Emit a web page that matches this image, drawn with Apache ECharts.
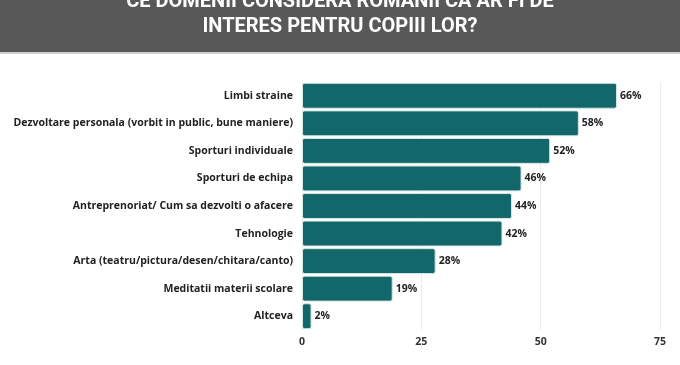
<!DOCTYPE html>
<html><head><meta charset="utf-8">
<script src="https://cdn.jsdelivr.net/npm/echarts@6/dist/echarts.min.js"></script>
<style>html,body{margin:0;padding:0;background:#fff}#c{width:680px;height:365px}</style>
</head><body><div id="c"></div>
<script>
const titleLines = ["CE DOMENII CONSIDERA ROMANII CA AR FI DE", "INTERES PENTRU COPIII LOR?"];
const categories = ["Limbi straine","Dezvoltare personala (vorbit in public, bune maniere)","Sporturi individuale","Sporturi de echipa","Antreprenoriat/ Cum sa dezvolti o afacere","Tehnologie","Arta (teatru/pictura/desen/chitara/canto)","Meditatii materii scolare","Altceva"];
const values = [66,58,52,46,44,42,28,19,2];
const xTicks = [0,25,50,75];

const chart = echarts.init(document.getElementById('c'));
const font = "'Open Sans', 'Noto Sans', sans-serif";
chart.setOption({
  animation:false,
  graphic:[
    {type:'rect', shape:{x:0,y:0,width:680,height:53}, style:{fill:'#585858'}},
    {type:'rect', shape:{x:0,y:52,width:680,height:2}, style:{fill:'#cfcfcf'}},
    {type:'text', x:340, y:2, style:{text:titleLines[0], fill:'#fff', font:"bold 20px 'Liberation Sans Narrow', Roboto, sans-serif", textAlign:'center', textVerticalAlign:'middle'}},
    {type:'text', x:340, y:27, style:{text:titleLines[1], fill:'#fff', font:"bold 20px 'Liberation Sans Narrow', Roboto, sans-serif", textAlign:'center', textVerticalAlign:'middle'}}
  ],
  grid:{left:302, right:20, top:82, bottom:35, containLabel:false},
  xAxis:{type:'value', min:xTicks[0], max:xTicks[xTicks.length-1], interval:25,
    axisLine:{show:false}, axisTick:{show:false},
    splitLine:{lineStyle:{color:'#ececec'}},
    axisLabel:{color:'#333', fontFamily:font, fontWeight:'bold', fontSize:10.5, margin:7}},
  yAxis:{type:'category', data:categories, inverse:true,
    axisLine:{show:false}, axisTick:{show:false},
    axisLabel:{color:'#222', fontFamily:font, fontWeight:'bold', fontSize:10.5, margin:9}},
  series:[{type:'bar', data:values, barCategoryGap:'6%',
    itemStyle:{color:'#12676a', borderColor:'#d8e6e6', borderWidth:1, borderRadius:2},
    label:{show:true, position:'right', distance:3, formatter:'{c}%', color:'#222', fontFamily:font, fontWeight:'bold', fontSize:10.5}
  }]
});
</script></body></html>
